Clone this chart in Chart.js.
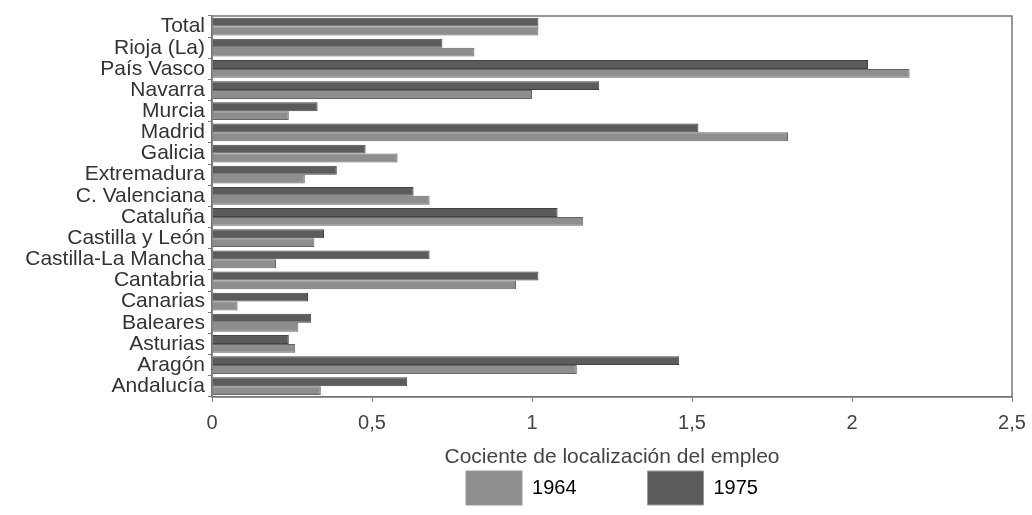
<!DOCTYPE html>
<html>
<head>
<meta charset="utf-8">
<script src="https://cdn.jsdelivr.net/npm/chart.js@4"></script>
<style>
  html, body { margin: 0; padding: 0; background: #fff; }
  #wrap { width: 1032px; height: 515px; }
</style>
</head>
<body>
<div id="wrap"><canvas id="chart" width="1032" height="515"></canvas></div>
<script>
const regions = ['Total', 'Rioja (La)', 'País Vasco', 'Navarra', 'Murcia', 'Madrid', 'Galicia',
  'Extremadura', 'C. Valenciana', 'Cataluña', 'Castilla y León', 'Castilla-La Mancha',
  'Cantabria', 'Canarias', 'Baleares', 'Asturias', 'Aragón', 'Andalucía'];
const vals1975 = [1.02, 0.72, 2.05, 1.21, 0.33, 1.52, 0.48, 0.39, 0.63, 1.08, 0.35, 0.68,
  1.02, 0.30, 0.31, 0.24, 1.46, 0.61];
const vals1964 = [1.02, 0.82, 2.18, 1.0, 0.24, 1.80, 0.58, 0.29, 0.68, 1.16, 0.32, 0.20,
  0.95, 0.08, 0.27, 0.26, 1.14, 0.34];
const xTicks = [0, 0.5, 1, 1.5, 2, 2.5];

// box round the plot area (top and right sides too)
const frame = {
  id: 'frame',
  afterDatasetsDraw(chart) {
    const a = chart.chartArea, ctx = chart.ctx;
    ctx.save();
    ctx.strokeStyle = '#777';
    ctx.lineWidth = 1.5;
    ctx.strokeRect(a.left, a.top, a.right - a.left, a.bottom - a.top);
    ctx.restore();
  }
};

const font = 'Liberation Sans';

const ctx = document.getElementById('chart').getContext('2d');
new Chart(ctx, {
  type: 'bar',
  data: {
    labels: regions,
    datasets: [
      { label: '1975', data: vals1975, backgroundColor: '#5c5c5c', borderColor: '#444', borderWidth: 1 },
      { label: '1964', data: vals1964, backgroundColor: '#8e8e8e', borderColor: '#666', borderWidth: 1 }
    ]
  },
  options: {
    indexAxis: 'y',
    responsive: false,
    animation: false,
    layout: { padding: { top: 16, right: 20, left: 0, bottom: 0 } },
    datasets: { bar: { categoryPercentage: 0.84, barPercentage: 1.0 } },
    scales: {
      x: {
        min: 0, max: 2.5,
        afterBuildTicks: s => { s.ticks = xTicks.map(v => ({ value: v })); },
        afterFit: s => { s.height -= 1; },
        ticks: {
          color: '#444',
          font: { family: font, size: 20, lineHeight: 1.6 },
          padding: 6,
          callback: v => String(v).replace('.', ',')
        },
        grid: { drawOnChartArea: false, color: '#777', tickLength: 5 },
        border: { color: '#777', width: 1.5 },
        title: {
          display: true, text: 'Cociente de localización del empleo', color: '#444',
          font: { family: font, size: 21 }, padding: { top: 0, bottom: 0 }
        }
      },
      y: {
        afterFit: s => { s.width = 212; },
        ticks: { color: '#333', font: { family: font, size: 21, lineHeight: 1 }, padding: 3, autoSkip: false },
        grid: { offset: true, drawOnChartArea: false, color: '#777', tickLength: 4 },
        border: { color: '#777', width: 1.5 }
      }
    },
    plugins: {
      legend: {
        position: 'bottom',
        fullSize: false,
        reverse: true,
        labels: {
          boxWidth: 56, boxHeight: 34, padding: 1, color: '#444',
          font: { family: font, size: 20 },
          // first label gets some trailing room, as in the reference the two keys sit far apart
          generateLabels: chart => chart.data.datasets.map((d, i) => ({
            text: i === 1 ? d.label + '\u2003\u2003\u2003\u2002' : d.label,
            fillStyle: d.backgroundColor, strokeStyle: '#999', lineWidth: 1,
            datasetIndex: i, hidden: false
          }))
        }
      },
      tooltip: { enabled: false }
    }
  },
  plugins: [frame]
});
</script>
</body>
</html>
